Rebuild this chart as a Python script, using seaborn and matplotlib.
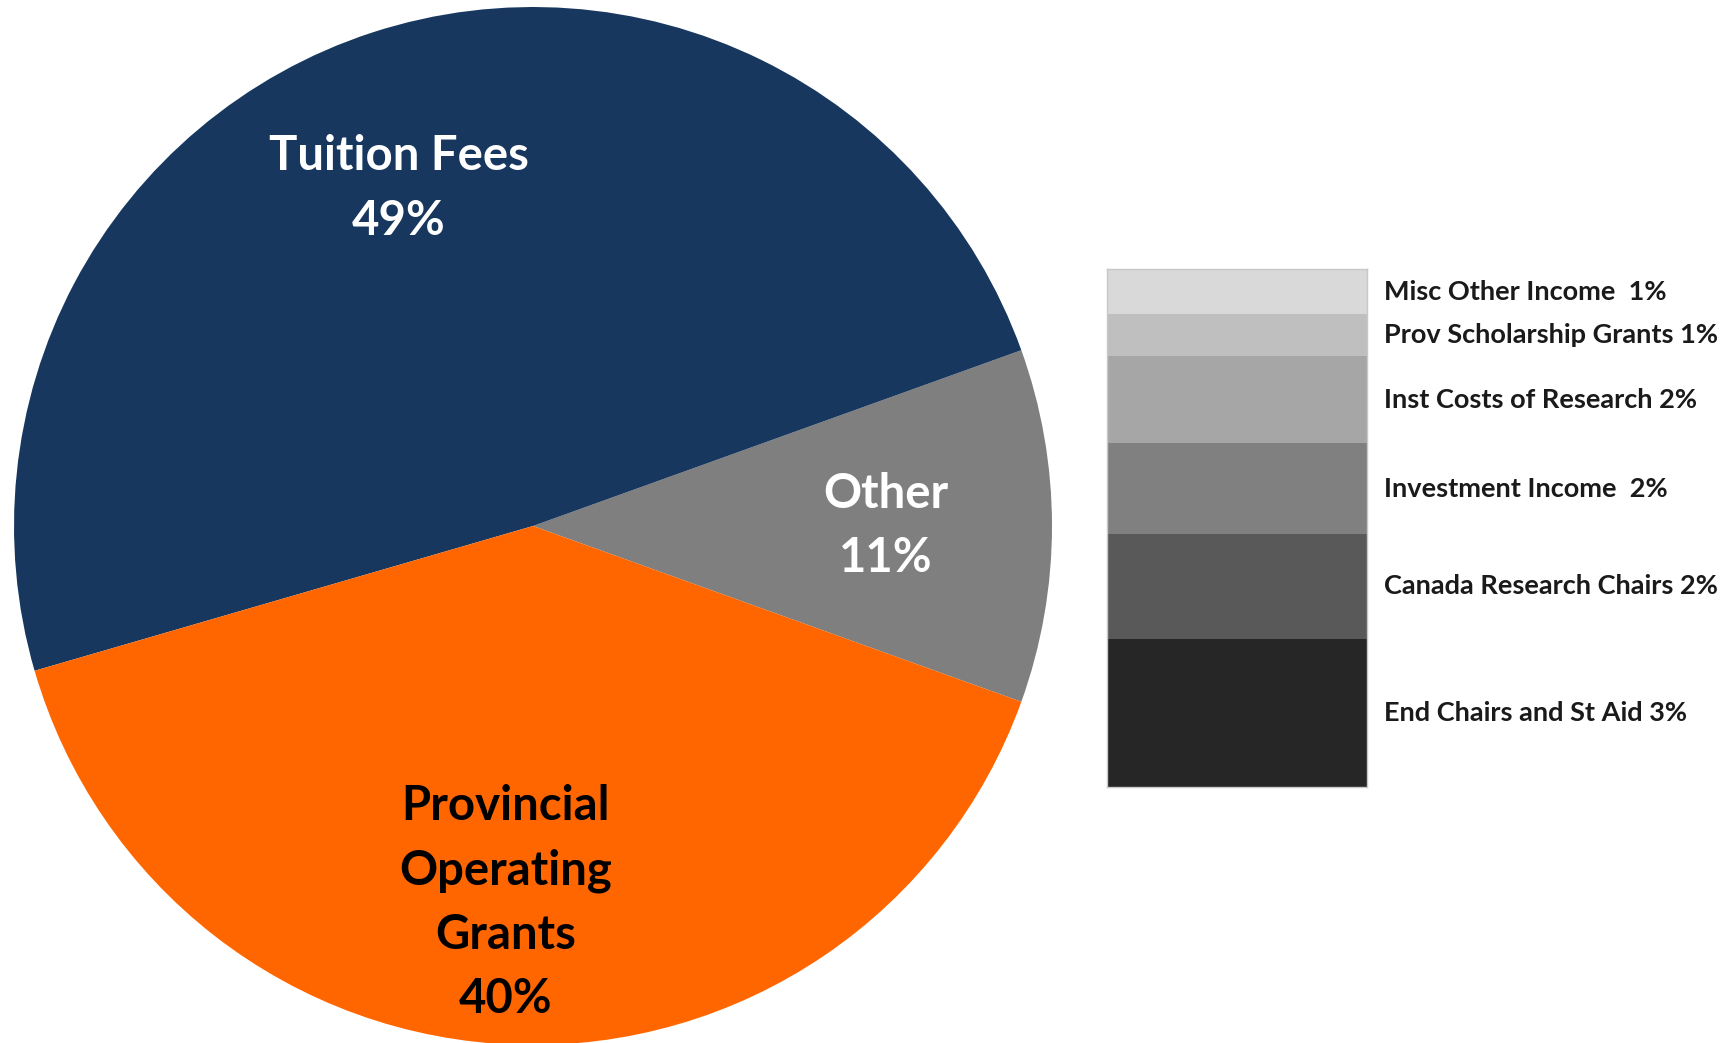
import numpy as np
import matplotlib
matplotlib.use("Agg")
import matplotlib.pyplot as plt
import seaborn as sns

# Main revenue breakdown (percent)
main_labels = ["Other", "Tuition Fees", "Provincial\nOperating\nGrants"]
main_values = [11, 49, 40]
main_colors = ["#7F7F7F", "#17375E", "#FF6600"]
main_text_colors = ["white", "white", "black"]

# Breakdown of "Other" (percent), listed top to bottom
other_labels = ["Misc Other Income ", "Prov Scholarship Grants", "Inst Costs of Research",
                "Investment Income ", "Canada Research Chairs", "End Chairs and St Aid"]
other_values = [0.96, 0.89, 1.85, 1.92, 2.23, 3.14]
other_colors = ["#D9D9D9", "#BFBFBF", "#A6A6A6", "#808080", "#595959", "#262626"]

sns.set_theme(style="white")
plt.rcParams["font.family"] = ["Lato", "DejaVu Sans"]

W, H = 1733, 1043
fig = plt.figure(figsize=(W / 100, H / 100), dpi=100)
fig.patch.set_facecolor("white")

# ---- pie ----
cx, cy, r = 533, 526, 519
ax = fig.add_axes([(cx - r) / W, (H - cy - r) / H, 2 * r / W, 2 * r / H])
start = -main_values[0] / 100 * 360 / 2
wedges, _ = ax.pie(main_values, colors=main_colors, startangle=start,
                   counterclock=True, radius=1.0,
                   wedgeprops=dict(linewidth=0))
ax.set_xlim(-1, 1)
ax.set_ylim(-1, 1)
ax.set_aspect("equal")
ax.axis("off")

# label placement: distance from centre and angular nudge from the wedge midline
label_dist = [0.68, 0.70, 0.728]
label_shift = [0.0, 3.7, -2.4]
for w, lab, val, tc, d, sh in zip(wedges, main_labels, main_values, main_text_colors,
                                  label_dist, label_shift):
    mid = np.deg2rad((w.theta1 + w.theta2) / 2 + sh)
    ax.text(d * np.cos(mid), d * np.sin(mid), f"{lab}\n{val}%", ha="center", va="center",
            color=tc, fontsize=34, fontweight="bold", linespacing=1.56)

# ---- stacked bar for "Other" ----
bx0, bx1, by0, by1 = 1107, 1367, 269, 787
bax = fig.add_axes([bx0 / W, (H - by1) / H, (bx1 - bx0) / W, (by1 - by0) / H])
bottoms = np.concatenate([[0], np.cumsum(other_values[::-1])[:-1]])[::-1]
for lab, val, col, b in zip(other_labels, other_values, other_colors, bottoms):
    sns.barplot(x=[0], y=[val], bottom=b, color=col, width=1.0, linewidth=0,
                saturation=1, ax=bax)
    bax.text(1.065, b + val / 2, f"{lab} {val:.0f}%", transform=bax.get_yaxis_transform(),
             ha="left", va="center", fontsize=19.5, fontweight="bold", color="#1A1A1A",
             clip_on=False)
bax.set_xlim(-0.5, 0.5)
bax.set_ylim(0, sum(other_values))
bax.set_xticks([])
bax.set_yticks([])
bax.set_xlabel("")
bax.set_ylabel("")
for s in bax.spines.values():
    s.set_visible(True)
    s.set_color("#C8C8C8")
    s.set_linewidth(1.0)

fig.savefig("out.png", dpi=100, facecolor="white")
